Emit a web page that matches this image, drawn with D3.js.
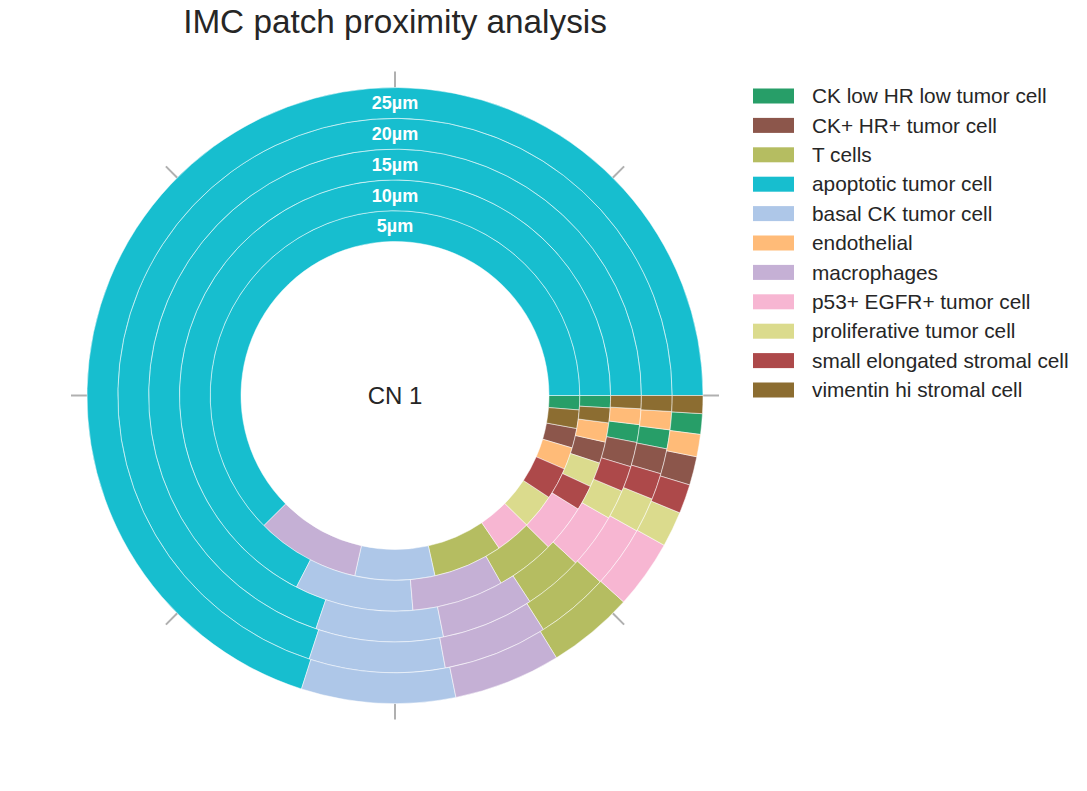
<!DOCTYPE html>
<html>
<head>
<meta charset="utf-8">
<script src="https://cdn.jsdelivr.net/npm/d3@7"></script>
<style>
  body { margin: 0; background: #fff; }
  text { font-family: "Liberation Sans", Arial, sans-serif; }
</style>
</head>
<body>
<div id="chart"></div>
<script>
// Global Variables
var w = 1087;
var h = 791;

// cell types, in legend order
var categories = [
	"CK low HR low tumor cell",
	"CK+ HR+ tumor cell",
	"T cells",
	"apoptotic tumor cell",
	"basal CK tumor cell",
	"endothelial",
	"macrophages",
	"p53+ EGFR+ tumor cell",
	"proliferative tumor cell",
	"small elongated stromal cell",
	"vimentin hi stromal cell"
];

var colorList = ["#279e68", "#8c564b", "#b5bd61", "#17becf", "#aec7e8", "#ffbb78",
	"#c5b0d5", "#f7b6d2", "#dbdb8d", "#ad494a", "#8c6d31"];

// ring labels, inner to outer
var distances = ["5µm", "10µm", "15µm", "20µm", "25µm"];

// percentage of each cell type per ring (same order as categories)
var ring5 = [1.25, 1.72, 6.06, 62.44, 6.97, 1.94, 9.06, 3.11, 3.06, 2.78, 1.61];
var ring10 = [0.92, 1.61, 4.42, 67.44, 8.89, 1.44, 6.86, 3.56, 1.86, 1.89, 1.11];
var ring15 = [1.17, 1.61, 3.89, 69.80, 8.36, 1.03, 6.06, 3.61, 1.94, 1.67, 0.86];
var ring20 = [1.11, 1.47, 4.28, 69.99, 7.92, 1.06, 6.08, 3.61, 2.03, 1.53, 0.92];
var ring25 = [1.08, 1.50, 4.53, 70.09, 8.08, 1.17, 5.61, 3.61, 1.86, 1.53, 0.94];

var rings = [ring5, ring10, ring15, ring20, ring25];

var cx = 395, cy = 395.5;

var colors = d3.scaleOrdinal().domain(categories).range(colorList);

// radius of each ring boundary
var rScale = d3.scaleLinear().domain([0, rings.length]).range([154, 308]);

var svg = d3.select("#chart")
			.append("svg")
			.attr("width", w)
			.attr("height", h);

svg.append("rect").attr("width", w).attr("height", h).attr("fill", "#fff");

// title
svg.append("text")
	.attr("x", cx)
	.attr("y", 33)
	.attr("text-anchor", "middle")
	.style("font-size", "33.3px")
	.style("fill", "#262626")
	.text("IMC patch proximity analysis");

var g = svg.append("g").attr("transform", "translate(" + cx + "," + cy + ")");

// small gray ticks every 45 degrees
var tickAngles = d3.range(0, 360, 45);
g.selectAll("line.tick")
	.data(tickAngles)
	.enter()
	.append("line")
	.attr("class", "tick")
	.attr("x1", function(d) { return rScale(rings.length) * Math.cos(d * Math.PI / 180); })
	.attr("y1", function(d) { return rScale(rings.length) * Math.sin(d * Math.PI / 180); })
	.attr("x2", function(d) { return (rScale(rings.length) + 16) * Math.cos(d * Math.PI / 180); })
	.attr("y2", function(d) { return (rScale(rings.length) + 16) * Math.sin(d * Math.PI / 180); })
	.style("stroke", "#b0b0b0")
	.style("stroke-width", 2);

// pie starts at 3 o'clock and runs clockwise, smallest slice first
var pie = d3.pie()
	.value(function(d) { return d.value; })
	.sort(function(a, b) { return a.value - b.value; })
	.startAngle(Math.PI / 2)
	.endAngle(Math.PI / 2 + 2 * Math.PI);

rings.forEach(function(vals, i) {
	var data = categories.map(function(c, j) { return { name: c, value: vals[j] }; });
	var arc = d3.arc().innerRadius(rScale(i)).outerRadius(rScale(i + 1));
	g.append("g")
		.selectAll("path")
		.data(pie(data))
		.enter()
		.append("path")
		.attr("d", arc)
		.style("fill", function(d) { return colors(d.data.name); })
		.style("stroke", "#fff")
		.style("stroke-width", 0.5);
});

// ring labels at the top
g.selectAll("text.ring")
	.data(distances)
	.enter()
	.append("text")
	.attr("class", "ring")
	.attr("x", 0)
	.attr("y", function(d, i) { return -(rScale(i) + rScale(i + 1)) / 2; })
	.attr("dy", "0.35em")
	.attr("text-anchor", "middle")
	.style("font-size", "18px")
	.style("font-weight", "bold")
	.style("fill", "#fff")
	.text(function(d) { return d; });

// center label
g.append("text")
	.attr("x", 0)
	.attr("y", 0)
	.attr("dy", "0.35em")
	.attr("text-anchor", "middle")
	.style("font-size", "24px")
	.style("fill", "#262626")
	.text("CN 1");

// legend
var legend = svg.append("g").attr("transform", "translate(753,96)");
var rows = legend.selectAll("g")
	.data(categories)
	.enter()
	.append("g")
	.attr("transform", function(d, i) { return "translate(0," + (i * 29.4) + ")"; });

rows.append("rect")
	.attr("x", 0)
	.attr("y", -7.5)
	.attr("width", 41)
	.attr("height", 15)
	.style("fill", function(d) { return colors(d); });

rows.append("text")
	.attr("x", 59)
	.attr("y", 0)
	.attr("dy", "0.35em")
	.style("font-size", "20.8px")
	.style("fill", "#262626")
	.text(function(d) { return d; });
</script>
</body>
</html>
